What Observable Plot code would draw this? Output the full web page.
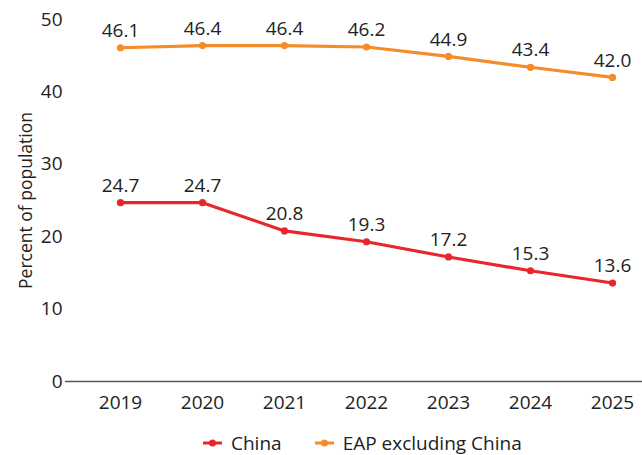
<!DOCTYPE html>
<html>
<head>
<meta charset="utf-8">
<script src="https://cdn.jsdelivr.net/npm/d3@7"></script>
<script src="https://cdn.jsdelivr.net/npm/@observablehq/plot@0.6"></script>
<style>
  body { margin: 0; background: #fff; }
  #chart { width: 642px; font-family: "Open Sans", sans-serif; color: #222; }
  #chart svg { display: block; }
  #chart [aria-label="y-axis label"] { font-size: 17.5px !important; }
  #chart [aria-label="y-axis label"] text { font-size: 17.5px !important; }
  .legend { display: flex; align-items: center; height: 35px; padding-left: 203px; font-size: 19px; color: #222; }
  .legend .item { display: flex; align-items: center; margin-right: 33px; }
  .legend svg { margin-right: 9px; }
</style>
</head>
<body>
<div id="chart"></div>
<script>
const years = [2019, 2020, 2021, 2022, 2023, 2024, 2025];
const china = [24.7, 24.7, 20.8, 19.3, 17.2, 15.3, 13.6];
const eap = [46.1, 46.4, 46.4, 46.2, 44.9, 43.4, 42.0];
const seriesNames = ["China", "EAP excluding China"];
const seriesColors = ["#e8262b", "#f68b2a"];
const yTicks = [0, 10, 20, 30, 40, 50];

const data = [
  ...years.map((y, i) => ({year: y, value: china[i], series: seriesNames[0]})),
  ...years.map((y, i) => ({year: y, value: eap[i], series: seriesNames[1]}))
];

const plot = Plot.plot({
  width: 642,
  height: 425,
  marginLeft: 65,
  marginRight: 0,
  marginTop: 19,
  marginBottom: 44,
  style: {fontFamily: "'Open Sans', sans-serif", fontSize: "19px", color: "#222", background: "#fff"},
  x: {type: "point", domain: years, padding: 0, insetLeft: 55, insetRight: 30},
  y: {domain: [0, 50]},
  color: {domain: seriesNames, range: seriesColors},
  marks: [
    Plot.axisY({ticks: yTicks, tickSize: 0, tickPadding: 3, fontSize: 19, label: "Percent of population", labelAnchor: "center", labelArrow: "none", labelOffset: 46}),
    Plot.axisX({tickSize: 0, tickPadding: 14, fontSize: 19, tickFormat: d => String(d), label: null}),
    Plot.ruleY([0], {stroke: "#555", strokeWidth: 1.5}),
    Plot.line(data, {x: "year", y: "value", z: "series", stroke: "series", strokeWidth: 3.2}),
    Plot.dot(data, {x: "year", y: "value", fill: "series", r: 3.6}),
    Plot.text(data, {x: "year", y: "value", text: d => d.value.toFixed(1), dy: -17, fill: "#222", fontSize: 19})
  ]
});
document.getElementById("chart").appendChild(plot);

const legend = document.createElement("div");
legend.className = "legend";
seriesNames.forEach((n, i) => {
  const item = document.createElement("div");
  item.className = "item";
  item.innerHTML = `<svg width="19" height="10"><line x1="0" x2="19" y1="5" y2="5" stroke="${seriesColors[i]}" stroke-width="3"/><circle cx="9.5" cy="5" r="3.5" fill="${seriesColors[i]}"/></svg><span>${n}</span>`;
  legend.appendChild(item);
});
document.getElementById("chart").appendChild(legend);
</script>
</body>
</html>
